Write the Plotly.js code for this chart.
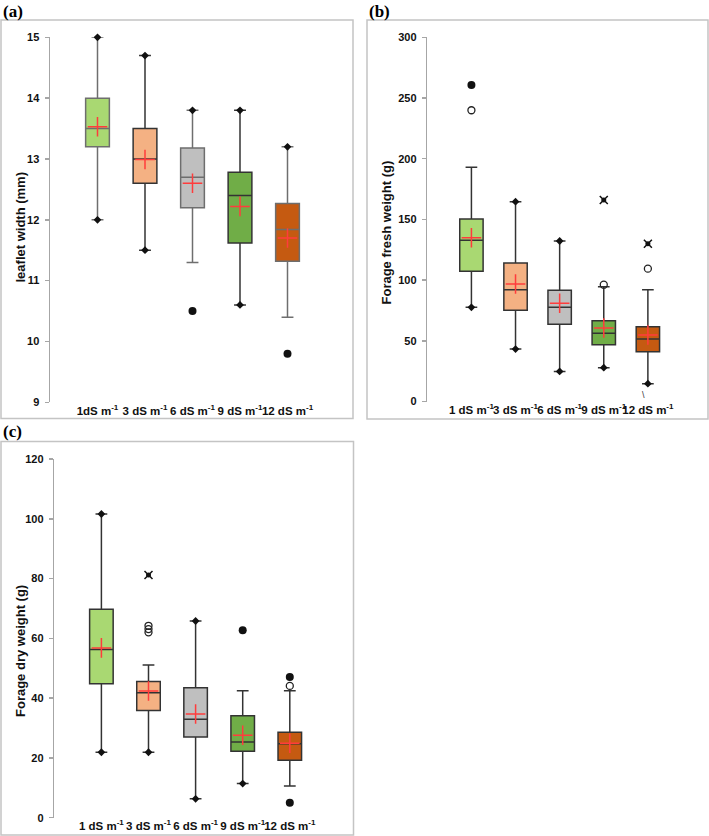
<!DOCTYPE html>
<html>
<head>
<meta charset="utf-8">
<script src="https://cdn.plot.ly/plotly-3.0.1.min.js"></script>
<style>html,body{margin:0;padding:0;background:#fff;}#chart{width:709px;height:836px;}</style>
</head>
<body>
<div id="chart"></div>
<script>
// ---------- DATA ----------
const catsA = ['1dS m<sup>-1</sup>', '3 dS m<sup>-1</sup>', '6 dS m<sup>-1</sup>', '9 dS m<sup>-1</sup>', '12 dS m<sup>-1</sup>'];
const catsB = ['1 dS m<sup>-1</sup>', '3 dS m<sup>-1</sup>', '6 dS m<sup>-1</sup>', '9 dS m<sup>-1</sup>', '12 dS m<sup>-1</sup>'];
const catsC = ['1 dS m<sup>-1</sup>', '3 dS m<sup>-1</sup>', '6 dS m<sup>-1</sup>', '9 dS m<sup>-1</sup>', '12 dS m<sup>-1</sup>'];

// (a) leaflet width (mm)
const aQ1     = [13.2, 12.6, 12.2, 11.62, 11.32];
const aMedian = [13.5, 13.0, 12.7, 12.4, 11.84];
const aQ3     = [14.0, 13.5, 13.18, 12.78, 12.27];
const aLower  = [12.0, 11.5, 11.3, 10.6, 10.4];
const aUpper  = [15.0, 14.7, 13.8, 13.8, 13.2];
const aMean   = [13.53, 12.99, 12.6, 12.22, 11.7];
const aExtremeIdx = [0, 0, 1, 1, 2, 3, 3, 4];
const aExtremeVal = [15.0, 12.0, 14.7, 11.5, 13.8, 13.8, 10.6, 13.2];
const aOutFilledIdx = [2, 4];
const aOutFilledVal = [10.5, 9.8];
const aOutOpenIdx = [];
const aOutOpenVal = [];
const aOutStarIdx = [];
const aOutStarVal = [];

// (b) forage fresh weight (g)
const bQ1     = [107.2, 75.1, 63.6, 46.8, 41.0];
const bMedian = [132.8, 92.1, 77.6, 56.2, 51.5];
const bQ3     = [150.3, 114.1, 91.6, 66.6, 61.6];
const bLower  = [77.6, 43.2, 24.8, 27.9, 14.7];
const bUpper  = [193.0, 164.6, 132.2, 94.5, 92.1];
const bMean   = [134.9, 96.8, 80.9, 60.5, 54.8];
const bExtremeIdx = [0, 1, 1, 2, 2, 3, 4];
const bExtremeVal = [77.6, 164.6, 43.2, 132.2, 24.8, 27.9, 14.7];
const bOutFilledIdx = [0];
const bOutFilledVal = [260.7];
const bOutOpenIdx = [0, 3, 4];
const bOutOpenVal = [239.9, 96.2, 109.4];
const bOutStarIdx = [3, 4];
const bOutStarVal = [166.0, 130.0];

// (c) forage dry weight (g)
const cQ1     = [44.8, 35.9, 27.0, 22.2, 19.2];
const cMedian = [56.3, 41.8, 32.9, 25.3, 24.7];
const cQ3     = [69.7, 45.6, 43.5, 34.1, 28.6];
const cLower  = [21.9, 21.9, 6.3, 11.4, 10.6];
const cUpper  = [101.6, 51.1, 65.8, 42.5, 42.5];
const cMean   = [56.8, 42.4, 34.7, 27.6, 24.9];
const cExtremeIdx = [0, 0, 1, 2, 2, 3];
const cExtremeVal = [101.6, 21.9, 21.9, 65.8, 6.3, 11.4];
const cOutFilledIdx = [3, 4, 4];
const cOutFilledVal = [62.7, 47.1, 5.0];
const cOutOpenIdx = [1, 1, 1, 4];
const cOutOpenVal = [64.2, 63.1, 62.0, 44.1];
const cOutStarIdx = [1];
const cOutStarVal = [81.2];

// ---------- STYLE ----------
const W = 709, H = 836;
const px = x => x / W;
const py = y => 1 - y / H;
const FONT = 'Liberation Sans, Arial, sans-serif';
const fills = ['#a9d872', '#f4b183', '#bfbfbf', '#70ad47', '#c55a11'];
const linesA = ['#6e6e6e', '#333333', '#6e6e6e', '#333333', '#6e6e6e'];
const linesBC = ['#333333', '#333333', '#333333', '#333333', '#333333'];

const traces = [];
function panel(cats, q1, med, q3, lo, up, mean, exIdx, exVal, ofIdx, ofVal, ooIdx, ooVal, osIdx, osVal, xa, ya, lineCols, bw) {
  cats.forEach((c, i) => {
    traces.push({
      type: 'box', x: [c], q1: [q1[i]], median: [med[i]], q3: [q3[i]],
      lowerfence: [lo[i]], upperfence: [up[i]],
      xaxis: xa, yaxis: ya, width: bw, whiskerwidth: 0.5,
      fillcolor: fills[i], line: {color: lineCols[i], width: 1.5},
      boxpoints: false, showlegend: false, hoverinfo: 'skip'
    });
  });
  const m = (idx) => idx.map(k => cats[k]);
  traces.push({type: 'scatter', mode: 'markers', x: m(exIdx), y: exVal, xaxis: xa, yaxis: ya, cliponaxis: false,
    marker: {symbol: 'diamond', size: 6, color: '#111'}, showlegend: false, hoverinfo: 'skip'});
  traces.push({type: 'scatter', mode: 'markers', x: m(ofIdx), y: ofVal, xaxis: xa, yaxis: ya, cliponaxis: false,
    marker: {symbol: 'circle', size: 8, color: '#111'}, showlegend: false, hoverinfo: 'skip'});
  traces.push({type: 'scatter', mode: 'markers', x: m(ooIdx), y: ooVal, xaxis: xa, yaxis: ya, cliponaxis: false,
    marker: {symbol: 'circle-open', size: 7, color: '#222', line: {width: 1.3, color: '#222'}}, showlegend: false, hoverinfo: 'skip'});
  traces.push({type: 'scatter', mode: 'markers', x: m(osIdx), y: osVal, xaxis: xa, yaxis: ya, cliponaxis: false,
    marker: {symbol: 'x-thin-open', size: 8, color: '#111', line: {width: 1.5, color: '#111'}}, showlegend: false, hoverinfo: 'skip'});
  traces.push({type: 'scatter', mode: 'markers', x: m(osIdx), y: osVal, xaxis: xa, yaxis: ya, cliponaxis: false,
    marker: {symbol: 'circle', size: 5, color: '#111'}, showlegend: false, hoverinfo: 'skip'});
  traces.push({type: 'scatter', mode: 'markers', x: cats, y: mean, xaxis: xa, yaxis: ya, cliponaxis: false,
    marker: {symbol: 'cross-thin-open', size: 14, color: '#ff3c3c', line: {width: 1.5, color: '#ff3c3c'}},
    showlegend: false, hoverinfo: 'skip'});
}

panel(catsA, aQ1, aMedian, aQ3, aLower, aUpper, aMean, aExtremeIdx, aExtremeVal, aOutFilledIdx, aOutFilledVal,
      aOutOpenIdx, aOutOpenVal, aOutStarIdx, aOutStarVal, 'x', 'y', linesA, 0.5);
panel(catsB, bQ1, bMedian, bQ3, bLower, bUpper, bMean, bExtremeIdx, bExtremeVal, bOutFilledIdx, bOutFilledVal,
      bOutOpenIdx, bOutOpenVal, bOutStarIdx, bOutStarVal, 'x2', 'y2', linesBC, 0.53);
panel(catsC, cQ1, cMedian, cQ3, cLower, cUpper, cMean, cExtremeIdx, cExtremeVal, cOutFilledIdx, cOutFilledVal,
      cOutOpenIdx, cOutOpenVal, cOutStarIdx, cOutStarVal, 'x3', 'y3', linesBC, 0.5);

function xax(dom, cats, anchor) {
  return {domain: dom, anchor: anchor, type: 'category', categoryarray: cats, categoryorder: 'array',
    range: [-1, 5], showline: false, showgrid: false, zeroline: false, ticks: '', tickangle: 0,
    tickfont: {family: FONT, size: 11.5, color: '#111', weight: 'bold'}, fixedrange: true};
}
function yax(dom, range, dtick, anchor) {
  return {domain: dom, anchor: anchor, range: range, dtick: dtick, showline: true, linecolor: '#a6a6a6', linewidth: 1.5,
    ticks: 'outside', ticklen: 4, tickcolor: '#a6a6a6', tickwidth: 1.5, ticklabelstandoff: 3,
    showgrid: false, zeroline: false,
    tickfont: {family: FONT, size: 11, color: '#111', weight: 'bold'}, fixedrange: true};
}

const frame = (x0, y0, x1, y1) => ({type: 'rect', xref: 'paper', yref: 'paper',
  x0: px(x0), x1: px(x1), y0: py(y1), y1: py(y0), line: {color: '#c4c4c4', width: 1.5}, layer: 'below'});

const ytitle = (txt, x, y) => ({text: txt, xref: 'paper', yref: 'paper', x: px(x), y: py(y), textangle: -90,
  showarrow: false, xanchor: 'center', yanchor: 'middle',
  font: {family: FONT, size: 13, color: '#111', weight: 'bold'}});
const plabel = (txt, x, y) => ({text: txt, xref: 'paper', yref: 'paper', x: px(x), y: py(y),
  showarrow: false, xanchor: 'left', yanchor: 'middle',
  font: {family: 'Liberation Serif, Times New Roman, serif', size: 17, color: '#000', weight: 'bold'}});

const layout = {
  width: W, height: H, margin: {l: 0, r: 0, t: 0, b: 0},
  paper_bgcolor: '#fff', plot_bgcolor: 'rgba(0,0,0,0)', showlegend: false, boxmode: 'overlay',
  xaxis:  xax([px(50), px(335)], catsA, 'y'),
  yaxis:  yax([py(402.3), py(37.3)], [9, 15], 1, 'x'),
  xaxis2: xax([px(427.3), px(692)], catsB, 'y2'),
  yaxis2: yax([py(401.5), py(37.3)], [0, 300], 50, 'x2'),
  xaxis3: xax([px(54.3), px(336.9)], catsC, 'y3'),
  yaxis3: yax([py(817.7), py(459)], [0, 120], 20, 'x3'),
  shapes: [frame(1, 20, 353, 418.5), frame(367, 20, 708, 419), frame(1, 441.5, 353.5, 835)],
  annotations: [
    ytitle('leaflet width (mm)', 20, 227.5),
    ytitle('Forage fresh weight (g)', 386.5, 233),
    ytitle('Forage dry weight (g)', 20, 651),
    plabel('(a)', 1, 11.5),
    plabel('(b)', 367, 11.5),
    plabel('(c)', 1, 431.5),
    {text: '\\', xref: 'paper', yref: 'paper', x: px(646.5), y: py(394.5), showarrow: false,
     font: {family: FONT, size: 9, color: '#333'}}
  ]
};

Plotly.newPlot('chart', traces, layout, {staticPlot: true, displayModeBar: false});
</script>
</body>
</html>
